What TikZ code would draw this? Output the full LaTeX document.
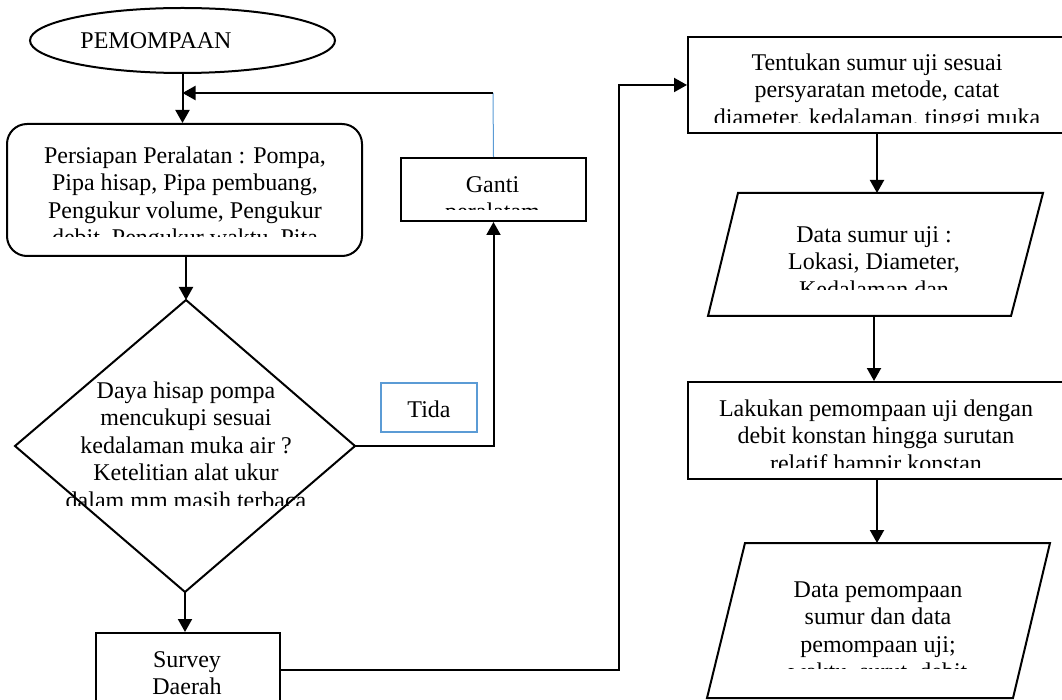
\documentclass[tikz,border=0pt]{standalone}
\usepackage{fontspec}
\setmainfont{Liberation Serif}
\usetikzlibrary{shapes.geometric,arrows.meta}
\definecolor{wordblue}{HTML}{5B9BD5}
\newcommand{\myfl}{\rule{0pt}{20pt}}
\begin{document}
\begin{tikzpicture}[x=1pt,y=-1pt,
  ln/.style={line width=2pt,draw=black},
  arr/.style={line width=2pt,draw=black,-{Triangle[length=13pt,width=14pt]}},
  box/.style={draw=black,line width=2pt,inner sep=0pt,rectangle},
  txt/.style={font=\fontsize{24}{27.5}\selectfont,align=center,inner sep=0pt},
  thinblue/.style={draw=wordblue,line width=1pt}]
\useasboundingbox (0,0) rectangle (1062,700);
\clip (0,0) rectangle (1062,700);

% ---- shapes ----
\node[ellipse,draw=black,line width=2pt,minimum width=305pt,minimum height=65pt,inner sep=0pt] (ell) at (182.5,40.5) {};
\node[box,rounded corners=20pt,minimum width=355pt,minimum height=132pt] (rr) at (184.5,190) {};
\node[box,minimum width=185pt,minimum height=63pt] (ganti) at (493.5,189.5) {};
\node[draw=wordblue,line width=2pt,inner sep=0pt,minimum width=96pt,minimum height=49pt] (tida) at (429,407.5) {};
\node[box,minimum width=184pt,minimum height=74pt] (survey) at (188,670) {};
\node[box,minimum width=378pt,minimum height=96pt] (tent) at (877,85) {};
\node[box,minimum width=378pt,minimum height=97pt] (lak) at (877,430.5) {};

\coordinate (dT) at (186,300);
\coordinate (dR) at (355,446);
\coordinate (dB) at (185,592);
\coordinate (dL) at (15,446);
\draw[ln,line join=miter] (dT) -- (dR) -- (dB) -- (dL) -- cycle;

\coordinate (p1a) at (738,193);
\coordinate (p1b) at (1043,193);
\coordinate (p1c) at (1011,316);
\coordinate (p1d) at (708,316);
\coordinate (p1T) at (877,193);
\coordinate (p1B) at (874,316);
\draw[ln] (p1a) -- (p1b) -- (p1c) -- (p1d) -- cycle;

\coordinate (p2a) at (745,543);
\coordinate (p2b) at (1050,543);
\coordinate (p2c) at (1013,698);
\coordinate (p2d) at (707,698);
\coordinate (p2T) at (877,543);
\draw[ln] (p2a) -- (p2b) -- (p2c) -- (p2d) -- cycle;

% ---- texts ----
\node[txt,anchor=base] (tPem) at (156,49) {PEMOMPAAN};
\begin{scope}
  \clip (0,124) rectangle (1062,237);
  \node[txt,anchor=north] (tRr) at (185,143) {\myfl Persiapan Peralatan : Pompa,\\Pipa hisap, Pipa pembuang,\\Pengukur volume, Pengukur\\debit, Pengukur waktu, Pita};
\end{scope}
\begin{scope}
  \clip (0,158) rectangle (1062,210);
  \node[txt,anchor=north] (tGanti) at (492.5,172) {\myfl Ganti\\peralatam};
\end{scope}
\begin{scope}
  \clip (0,300) rectangle (1062,505);
  \node[txt,anchor=north] (tDia) at (186,378) {\myfl Daya hisap pompa\\mencukupi sesuai\\kedalaman muka air ?\\Ketelitian alat ukur\\dalam mm masih terbaca};
\end{scope}
\node[txt,anchor=base] (tTida) at (429,417) {Tida};
\begin{scope}
  \clip (0,37) rectangle (1062,123);
  \node[txt,anchor=north] (tTent) at (877,50) {\myfl Tentukan sumur uji sesuai\\persyaratan metode, catat\\diameter, kedalaman, tinggi muka};
\end{scope}
\begin{scope}
  \clip (0,193) rectangle (1062,290);
  \node[txt,anchor=north] (tP1) at (874,222) {\myfl Data sumur uji :\\Lokasi, Diameter,\\Kedalaman dan};
\end{scope}
\begin{scope}
  \clip (0,382) rectangle (1062,467);
  \node[txt,anchor=north] (tLak) at (876,396) {\myfl Lakukan pemompaan uji dengan\\debit konstan hingga surutan\\relatif hampir konstan};
\end{scope}
\begin{scope}
  \clip (0,543) rectangle (1062,668);
  \node[txt,anchor=north] (tP2) at (878,577) {\myfl Data pemompaan\\sumur dan data\\pemompaan uji;\\waktu, surut, debit};
\end{scope}
\node[txt,anchor=north] (tSurvey) at (187,647) {\myfl Survey\\Daerah};

% ---- connectors ----
\coordinate (loopc) at (493,93);
\coordinate (bend) at (619,400);
\draw[arr] (ell.south) -- (ell.south |- rr.north);
\draw[thinblue] (ganti.north) -- (loopc);
\draw[arr] (loopc) -- (ell.south |- loopc);
\draw[arr] (dT |- rr.south) -- (dT);
\draw[arr] (dR) -| (ganti.south);
\draw[arr] (dB) -- (dB |- survey.north);
\draw[arr] (survey.east) -| (bend) |- (tent.west);
\draw[arr] (tent.south) -- (p1T);
\draw[arr] (p1B) -- (p1B |- lak.north);
\draw[arr] (lak.south) -- (p2T);
\end{tikzpicture}
\end{document}
